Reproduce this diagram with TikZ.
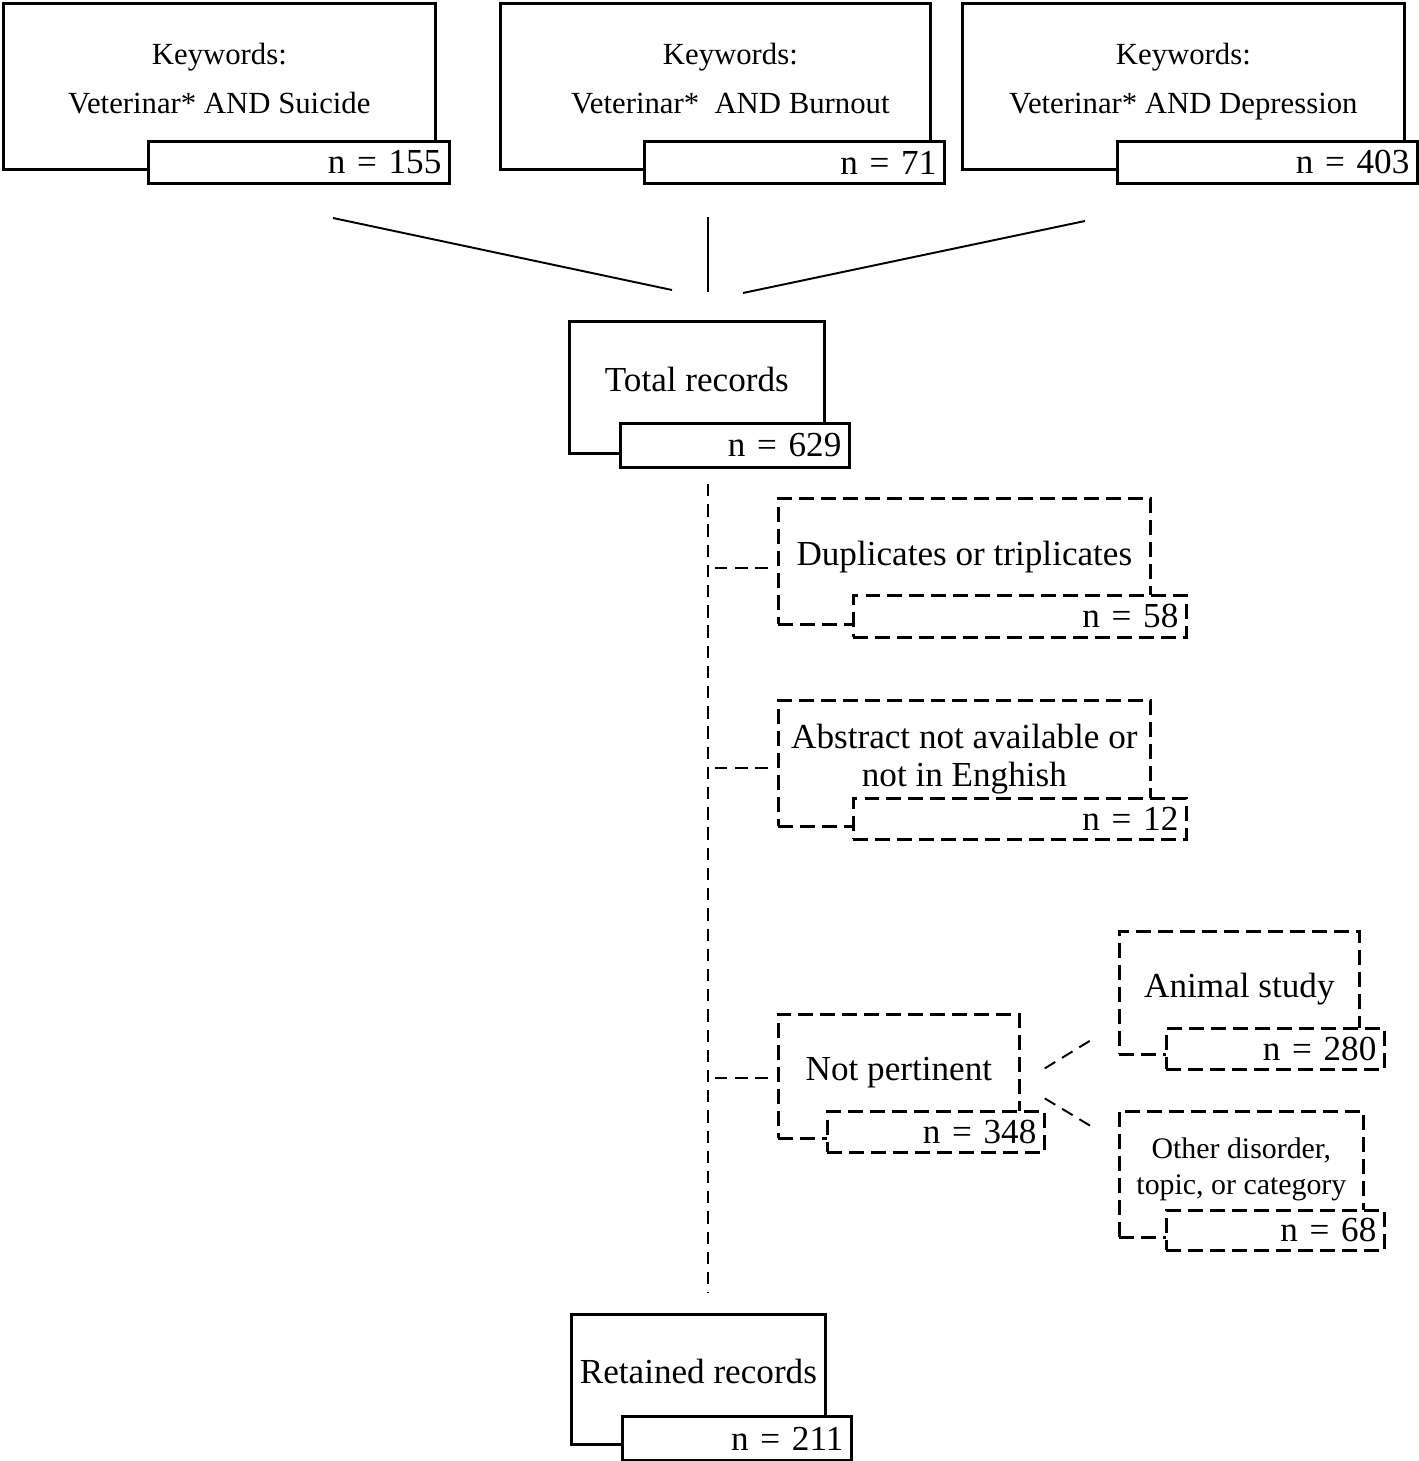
\documentclass[tikz,border=0pt]{standalone}
\usepackage{fontspec}
\setmainfont{Liberation Serif}
\usetikzlibrary{calc}

\begin{document}
\begin{tikzpicture}[x=0.02cm,y=-0.02cm,
	mainbox/.style={draw,line width=1.6pt,anchor=north west,align=center,inner sep=0pt,text depth=0.32cm,font=\fontsize{20}{22}\selectfont},
	keybox/.style={mainbox,font=\fontsize{17.5}{28}\selectfont},
	numbox/.style={draw,fill=white,line width=1.6pt,anchor=north west,align=right,inner xsep=0.16cm,inner ysep=0pt,font=\fontsize{20}{24}\selectfont},
	dashbox/.style={mainbox,dash pattern=on 8.5pt off 4pt},
	dashnum/.style={numbox,dash pattern=on 8.5pt off 4pt},
	conn/.style={line width=1.1pt},
	dconn/.style={conn,dash pattern=on 7pt off 4.5pt}]
	\useasboundingbox (0,0) rectangle (1418,1461);

	%search boxes
	\node[keybox,minimum width=8.64cm,minimum height=3.32cm] (kw1) at (2,2) {Keywords:\\Veterinar* AND Suicide};
	\node[numbox,text width=5.70cm,minimum height=0.84cm] (n1) at (147,140) {n = 155};
	\node[keybox,minimum width=8.60cm,minimum height=3.32cm] (kw2) at (499,2) {\hspace*{0.6cm}Keywords:\\\hspace*{0.6cm}Veterinar*~ AND Burnout};
	\node[numbox,text width=5.68cm,minimum height=0.84cm] (n2) at (643,140) {n = 71};
	\node[keybox,minimum width=8.84cm,minimum height=3.32cm] (kw3) at (961,2) {Keywords:\\Veterinar* AND Depression};
	\node[numbox,text width=5.68cm,minimum height=0.84cm] (n3) at (1116,140) {n = 403};

	%merge lines
	\coordinate (f1) at (333,218);
	\coordinate (f2) at (708,217);
	\coordinate (f3) at (1085,221);
	\coordinate (h1) at (672,290);
	\coordinate (h2) at (708,292);
	\coordinate (h3) at (743,293);
	\draw[conn] (f1) -- (h1);
	\draw[conn] (f2) -- (h2);
	\draw[conn] (f3) -- (h3);

	%total
	\node[mainbox,minimum width=5.10cm,minimum height=2.64cm] (tot) at (568,320) {Total records};
	\node[numbox,text width=4.26cm,minimum height=0.88cm] (ntot) at (619,422) {n = 629};

	%screening line
	\coordinate (spTop) at (708,484);
	\coordinate (spBot) at (708,1293);
	\draw[dconn] (spTop) -- (spBot);

	%excluded
	\node[dashbox,minimum width=7.44cm,minimum height=2.52cm] (dup) at (777,497) {Duplicates or triplicates};
	\node[dashnum,text width=6.34cm,minimum height=0.84cm] (ndup) at (852,594) {n = 58};
	\node[dashbox,minimum width=7.44cm,minimum height=2.52cm] (abs) at (777,699) {Abstract not available or\\not in Enghish};
	\node[dashnum,text width=6.34cm,minimum height=0.82cm] (nabs) at (852,797) {n = 12};
	\node[dashbox,minimum width=4.82cm,minimum height=2.48cm] (np) at (777,1013) {Not pertinent};
	\node[dashnum,text width=4.02cm,minimum height=0.82cm] (nnp) at (826,1110) {n = 348};

	\draw[dconn] ($(dup.west -| spTop)+(7,7)$) -- ($(dup.west)+(-6,7)$);
	\draw[dconn] ($(abs.west -| spTop)+(7,5)$) -- ($(abs.west)+(-6,5)$);
	\draw[dconn] ($(np.west -| spTop)+(7,2)$) -- ($(np.west)+(-6,2)$);

	%not pertinent split
	\node[dashbox,minimum width=4.80cm,minimum height=2.46cm] (an) at (1118,930) {Animal study};
	\node[dashnum,text width=4.04cm,minimum height=0.82cm] (nan) at (1165,1027) {n = 280};
	\node[dashbox,minimum width=4.88cm,minimum height=2.52cm,font=\fontsize{17}{20.5}\selectfont] (ot) at (1118,1110) {Other disorder,\\topic, or category};
	\node[dashnum,text width=4.04cm,minimum height=0.80cm] (not) at (1165,1209) {n = 68};

	\draw[dconn] ([shift={(24,-8)}]np.east) -- ([shift={(-25,46)}]an.west);
	\draw[dconn] ([shift={(24,22)}]np.east) -- ([shift={(-25,-47)}]ot.west);

	%retained
	\node[mainbox,minimum width=5.08cm,minimum height=2.60cm] (ret) at (570,1313) {Retained records};
	\node[numbox,text width=4.26cm,minimum height=0.88cm] (nret) at (621,1415) {n = 211};
\end{tikzpicture}
\end{document}
